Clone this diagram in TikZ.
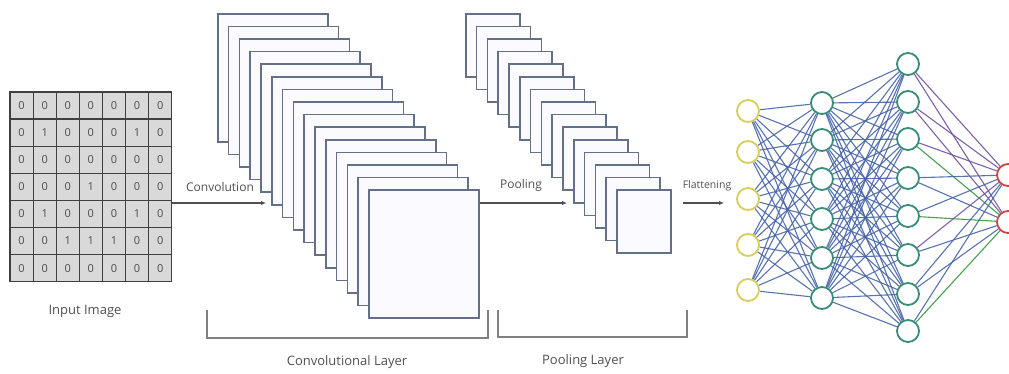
\documentclass[tikz,border=0pt]{standalone}
\usepackage{fontspec}
\setmainfont{Open Sans}
\usetikzlibrary{arrows.meta,backgrounds}

\definecolor{framegray}{RGB}{100,112,135}
\definecolor{labelgray}{RGB}{80,80,80}
\definecolor{wireblue}{RGB}{70,100,165}
\definecolor{wirepurple}{RGB}{110,80,160}
\definecolor{wiregreen}{RGB}{55,150,60}
\definecolor{inyellow}{RGB}{215,205,90}
\definecolor{hidteal}{RGB}{55,140,120}
\definecolor{outred}{RGB}{200,70,70}

\tikzset{
	cell/.style={draw=black!75, line width=1.2pt, fill=gray!30, minimum width=23.1pt,
		minimum height=27.1pt, inner sep=0pt, text=black!70, font=\fontsize{11}{11}\selectfont},
	fmap/.style={draw=framegray, line width=1.6pt, fill=blue!2, anchor=north west, inner sep=0pt},
	flow/.style={draw=labelgray, line width=1.1pt, -{Latex[length=5pt,width=4.5pt]}},
	brace/.style={draw=gray, line width=1.6pt},
	caption/.style={text=labelgray, font=\fontsize{13}{15}\selectfont},
	small/.style={text=labelgray, font=\fontsize{12}{14}\selectfont},
	neuron/.style={circle, draw, line width=1.8pt, fill=white, minimum size=22pt, inner sep=0pt},
	wire/.style={line width=1.1pt, wireblue, opacity=0.9},
}

\begin{document}
\begin{tikzpicture}[x=1pt,y=-1pt]
	\useasboundingbox (0,0) rectangle (1009,374);

	% input image grid
	\foreach \row [count=\r] in {{0,0,0,0,0,0,0},{0,1,0,0,0,1,0},{0,0,0,0,0,0,0},{0,0,0,1,0,0,0},
		{0,1,0,0,0,1,0},{0,0,1,1,1,0,0},{0,0,0,0,0,0,0}}
		\foreach \v [count=\c] in \row
			\node[cell] (cell-\r-\c) at ({10+23.1*(\c-0.5)},{92+27.1*(\r-0.5)}) {\v};
	\node[caption] (input) at (85,311) {Input Image};

	% convolution
	\coordinate (convin) at (266,203);
	\draw[flow] (172,203) -- (convin);
	\node[small, anchor=south] (convtxt) at (220,195) {Convolution};
	\foreach \i in {0,...,14}
		\node[fmap, minimum width=110pt, minimum height=128pt] (conv\i) at ({217+10.8*\i},{13+12.6*\i}) {};

	% pooling
	\coordinate (poolin) at (567,203);
	\draw[flow] (conv14.east |- poolin) -- (poolin);
	\node[small, anchor=south] (pooltxt) at (521,195) {Pooling};
	\foreach \i in {0,...,14}
		\node[fmap, minimum width=54pt, minimum height=63pt] (pool\i) at ({465+10.8*\i},{13+12.6*\i}) {};

	% flattening
	\coordinate (flatout) at (683,203);
	\coordinate (flatin) at (724,203);
	\draw[flow] (flatout) -- (flatin);
	\node[small, anchor=south, font=\fontsize{10.5}{12}\selectfont] (flattxt) at (707,195) {Flattening};

	% brackets
	\draw[brace] (207,310) -- (207,338) -- (488,338) -- (488,310);
	\node[caption] (convlayer) at (347,362) {Convolutional Layer};
	\draw[brace] (498,310) -- (498,337) -- (687,337) -- (687,310);
	\node[caption] (poollayer) at (583,361) {Pooling Layer};

	% network
	\foreach \y [count=\k] in {111,152,199,245,290}
		\node[neuron, draw=inyellow] (a\k) at (748,\y) {};
	\foreach \y [count=\k] in {103,140,179,219,258,298}
		\node[neuron, draw=hidteal] (b\k) at (822,\y) {};
	\foreach \y [count=\k] in {64,102,139,178,216,255,294,331}
		\node[neuron, draw=hidteal] (c\k) at (908,\y) {};
	\foreach \y [count=\k] in {175,222}
		\node[neuron, draw=outred] (o\k) at (1008,\y) {};

	\begin{scope}[on background layer]
		\foreach \i in {1,...,5}
			\foreach \j in {1,...,6}
				\draw[wire] (a\i) -- (b\j);
		\foreach \i in {1,...,6}
			\foreach \j in {1,...,8}
				\draw[wire] (b\i) -- (c\j);
		\foreach \i/\ca/\cb in {1/wirepurple/wirepurple, 2/wirepurple/wirepurple, 3/wirepurple/wiregreen,
			4/wireblue/wireblue, 5/wireblue/wiregreen, 6/wirepurple/wireblue, 7/wireblue/wireblue, 8/wireblue/wiregreen}
		{
			\draw[wire, \ca] (c\i) -- (o1);
			\draw[wire, \cb] (c\i) -- (o2);
		}
	\end{scope}
\end{tikzpicture}
\end{document}
